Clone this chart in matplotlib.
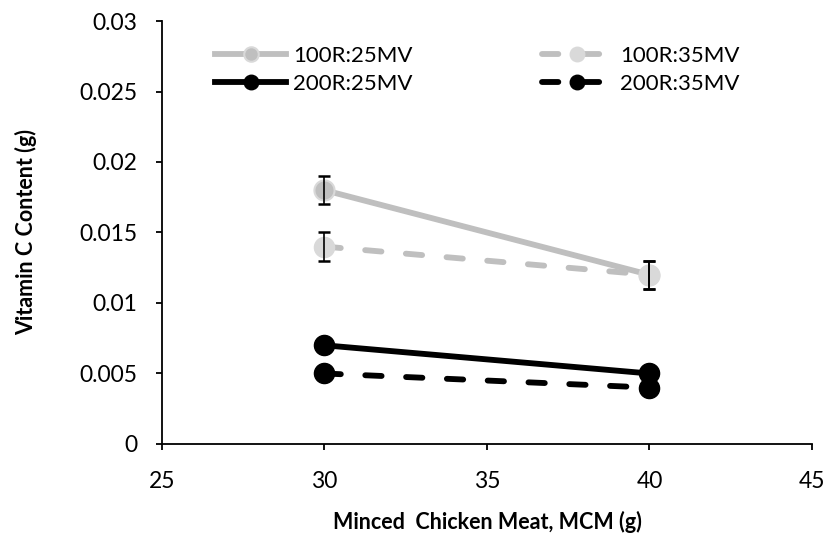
import matplotlib
matplotlib.use("Agg")
import matplotlib.pyplot as plt

plt.rcParams['font.family'] = ['Lato', 'DejaVu Sans']

x_vals = [30, 40]
series_names = ["100R:25MV", "100R:35MV", "200R:25MV", "200R:35MV"]
y_100_25 = [0.018, 0.012]
y_100_35 = [0.014, 0.012]
y_200_25 = [0.007, 0.005]
y_200_35 = [0.005, 0.004]
err_100_25 = [0.001, 0.001]
err_100_35 = [0.001, 0.001]
xticks = [25, 30, 35, 40, 45]
yticks = [0, 0.005, 0.01, 0.015, 0.02, 0.025, 0.03]
ytick_labels = ["0", "0.005", "0.01", "0.015", "0.02", "0.025", "0.03"]

fig = plt.figure(figsize=(8.24, 5.4), dpi=100)
ax = fig.add_axes([0.1966, 0.1778, 0.7888, 0.7833])

lw = 4.2
ms = 14.5
dash = (0, (2.8, 4.2))
h1, = ax.plot(x_vals, y_100_25, color="#BFBFBF", lw=lw, marker="o", ms=ms,
              mfc="#BFBFBF", mec="#D9D9D9", mew=1.5, zorder=3)
ax.errorbar(x_vals, y_100_25, yerr=err_100_25, fmt="none", ecolor="black",
            elinewidth=1.2, capsize=4.3, capthick=1.8, zorder=4)
h2, = ax.plot(x_vals, y_100_35, color="#BFBFBF", lw=lw, ls=dash, marker="o", ms=ms,
              mfc="#D9D9D9", mec="#D9D9D9", zorder=3, dash_capstyle="round")
ax.errorbar(x_vals, y_100_35, yerr=err_100_35, fmt="none", ecolor="black",
            elinewidth=1.2, capsize=4.3, capthick=1.8, zorder=4)
h3, = ax.plot(x_vals, y_200_25, color="black", lw=lw, marker="o", ms=ms,
              mfc="black", mec="black", zorder=3)
h4, = ax.plot(x_vals, y_200_35, color="black", lw=lw, ls=dash, marker="o", ms=ms,
              mfc="black", mec="black", zorder=3, dash_capstyle="round")

ax.set_xlim(25, 45)
ax.set_ylim(0, 0.03)
ax.set_xticks(xticks)
ax.set_xticklabels([str(t) for t in xticks])
ax.set_yticks(yticks)
ax.set_yticklabels(ytick_labels)
ax.tick_params(labelsize=16.5, direction="out", length=4.3, width=1.3, colors="black")
ax.tick_params(axis="y", pad=13.5)
ax.tick_params(axis="x", pad=15)
for s in ["top", "right"]:
    ax.spines[s].set_visible(False)
for s in ["left", "bottom"]:
    ax.spines[s].set_color("black")
    ax.spines[s].set_linewidth(1.3)

ax.set_xlabel("Minced  Chicken Meat, MCM (g)", fontsize=15.5, fontweight="bold", labelpad=14)
ax.set_ylabel("Vitamin C Content (g)", fontsize=15.5, fontweight="bold", labelpad=30)

handles = [h1, h3, h2, h4]
labels = [series_names[0], series_names[2], series_names[1], series_names[3]]
leg = ax.legend(handles, labels, ncol=2, frameon=False,
                loc="upper left", bbox_to_anchor=(0.051, 0.988), fontsize=16,
                handlelength=3.2, columnspacing=5.8, markerscale=0.72, labelspacing=0.36,
                handletextpad=0.32)

fig.savefig("out.png", dpi=100)
